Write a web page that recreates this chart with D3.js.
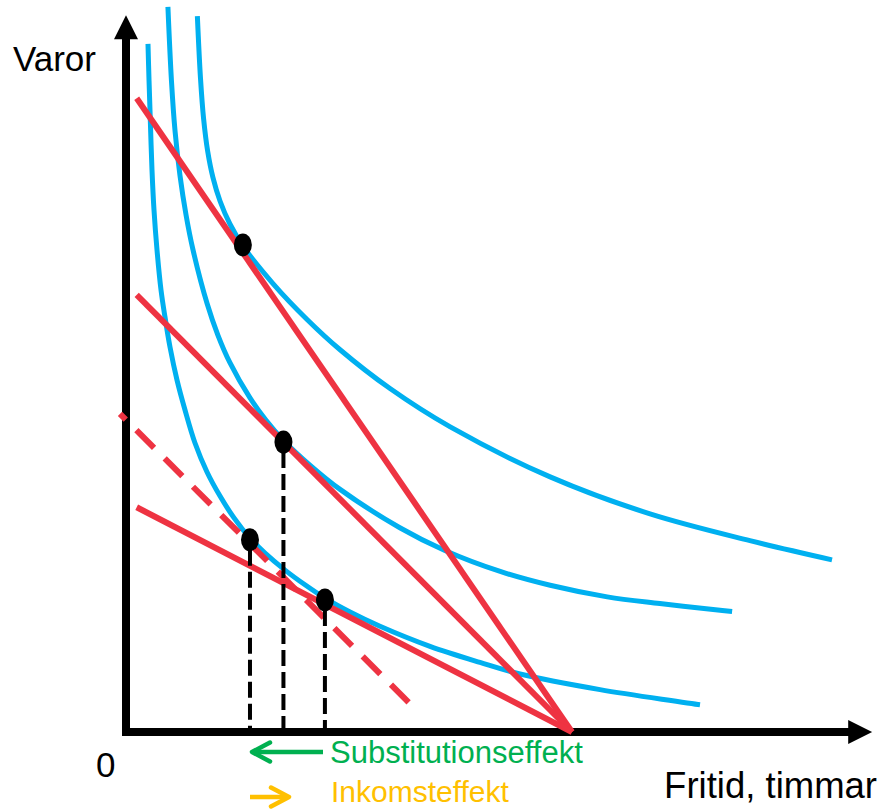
<!DOCTYPE html>
<html><head><meta charset="utf-8">
<script src="https://cdn.jsdelivr.net/npm/d3@7/dist/d3.min.js"></script>
<style>html,body{margin:0;padding:0;background:#fff;} svg{display:block;}</style>
</head><body>
<svg id="chart" width="878" height="809"></svg>
<script>
// ---- data (leisure hours on x, goods on y; total time = 100) ----
const outerCurve = [[16.0,160.5],[16.7,146.6],[17.4,137.5],[18.3,130.3],[19.5,124.3],[21.1,119.0],[23.3,113.9],[26.2,109.0],[33.0,100.5],[40.6,92.5],[48.0,85.7],[59.2,77.0],[72.7,68.4],[95.1,57.2],[117.5,48.9],[139.9,42.9],[158.3,38.6]];
const middleCurve = [[9.4,162.6],[10.2,145.9],[11.0,134.7],[12.1,124.8],[13.45,116.0],[15.0,108.2],[18.2,96.0],[20.6,89.0],[23.3,82.8],[27.8,74.9],[31.4,69.9],[35.2,65.5],[41.3,59.8],[48.0,54.4],[61.4,45.8],[71.5,40.7],[83.9,36.0],[95.1,32.9],[107.9,30.3],[119.7,28.8],[133.2,27.3],[135.9,27.0]];
const innerCurve = [[4.93,154.3],[5.16,146.2],[5.45,137.2],[5.83,126.0],[6.28,117.0],[6.95,108.1],[7.85,99.1],[8.74,93.05],[9.87,86.3],[11.44,78.9],[13.23,72.2],[15.47,64.8],[18.16,58.3],[21.08,52.9],[24.22,48.0],[27.58,43.7],[31.17,40.1],[35.65,36.3],[40.13,33.0],[44.62,30.0],[50.22,26.9],[56.95,23.7],[68.16,19.2],[79.37,15.6],[88.34,13.0],[106.28,9.5],[128.7,6.1]];
const budgetSteep = [[2.4,142.1],[100,0]];
const budgetOriginal = [[2.4,98.0],[100,0]];
const budgetFlat = [[2.4,50.4],[100,0]];
const budgetCompensated = [[-1.35,71.35],[63.7,6.3]];
const optimumPoints = [[26.2,109.2],[35.3,65.0],[27.8,43.1],[44.6,29.6]];
const dropLineIdx = [1,2,3];
const axisMax = {x:167.3, y:160.7};
const axisTitles = ["Varor","Fritid, timmar","0"];
const legendLabels = ["Substitutionseffekt","Inkomsteffekt"];

// ---- scales ----
const x = d3.scaleLinear().domain([0,100]).range([126,572]);
const y = d3.scaleLinear().domain([0,100]).range([732,286]);

const svg = d3.select("#chart");
const BLUE="#00b0f0", RED="#ee3342", GREEN="#00b050", ORANGE="#ffc000";
const font="'Liberation Sans', Arial, Helvetica, sans-serif";

// ---- axes ----
const ax = svg.append("g");
const x0=x(0), y0=y(0);
ax.append("line").attr("x1",x0).attr("y1",y0+4).attr("x2",x0).attr("y2",y(axisMax.y)+22)
  .attr("stroke","#000").attr("stroke-width",8);
ax.append("path").attr("d",`M${x0},${y(axisMax.y)} L${x0-12},${y(axisMax.y)+24} L${x0+12},${y(axisMax.y)+24} Z`).attr("fill","#000");
ax.append("line").attr("x1",x0-4).attr("y1",y0).attr("x2",x(axisMax.x)-22).attr("y2",y0)
  .attr("stroke","#000").attr("stroke-width",8);
ax.append("path").attr("d",`M${x(axisMax.x)},${y0} L${x(axisMax.x)-24},${y0-12} L${x(axisMax.x)-24},${y0+12} Z`).attr("fill","#000");

// ---- indifference curves ----
const curveGen = d3.line().x(d=>x(d[0])).y(d=>y(d[1])).curve(d3.curveCatmullRom.alpha(0.5));
[outerCurve, middleCurve, innerCurve].forEach(c=>{
  svg.append("path").attr("d",curveGen(c)).attr("fill","none")
    .attr("stroke",BLUE).attr("stroke-width",5);
});

// ---- budget lines ----
const lineGen = d3.line().x(d=>x(d[0])).y(d=>y(d[1]));
[budgetSteep, budgetOriginal, budgetFlat].forEach(b=>{
  svg.append("path").attr("d",lineGen(b)).attr("fill","none")
    .attr("stroke",RED).attr("stroke-width",6);
});
svg.append("path").attr("d",lineGen(budgetCompensated)).attr("fill","none")
  .attr("stroke",RED).attr("stroke-width",6)
  .attr("stroke-dasharray","25,15").attr("stroke-dashoffset",16.8);

// ---- drop lines ----
dropLineIdx.forEach(i=>{
  const p = optimumPoints[i];
  svg.append("line").attr("x1",x(p[0])).attr("x2",x(p[0]))
    .attr("y1",y(p[1])+10).attr("y2",y(0)-4)
    .attr("stroke","#000").attr("stroke-width",4).attr("stroke-dasharray","16,6");
});

// ---- optimum dots ----
svg.selectAll("ellipse.dot").data(optimumPoints).enter().append("ellipse")
  .attr("cx",d=>x(d[0])).attr("cy",d=>y(d[1])).attr("rx",9).attr("ry",11.5).attr("fill","#000");

// ---- texts ----
svg.append("text").attr("x",13).attr("y",71).attr("font-family",font).attr("font-size",35)
  .attr("fill","#000").text(axisTitles[0]);
svg.append("text").attr("x",877).attr("y",798).attr("text-anchor","end").attr("font-family",font).attr("font-size",36.5)
  .attr("fill","#000").text(axisTitles[1]);
svg.append("text").attr("x",96).attr("y",777).attr("font-family",font).attr("font-size",35)
  .attr("fill","#000").text(axisTitles[2]);

// ---- legend ----
const lg = svg.append("g");
lg.append("line").attr("x1",323).attr("y1",752).attr("x2",253).attr("y2",752).attr("stroke",GREEN).attr("stroke-width",4.5);
lg.append("path").attr("d","M270,742.5 L252,752 L270,761.5").attr("fill","none").attr("stroke",GREEN).attr("stroke-width",4.5).attr("stroke-linecap","round").attr("stroke-linejoin","round");
lg.append("text").attr("x",330).attr("y",763).attr("font-family",font).attr("font-size",31).attr("fill",GREEN).text(legendLabels[0]);
lg.append("line").attr("x1",250).attr("y1",797).attr("x2",287).attr("y2",797).attr("stroke",ORANGE).attr("stroke-width",4.5);
lg.append("path").attr("d","M271,787.5 L289,797 L271,806.5").attr("fill","none").attr("stroke",ORANGE).attr("stroke-width",4.5).attr("stroke-linecap","round").attr("stroke-linejoin","round");
lg.append("text").attr("x",331).attr("y",802).attr("font-family",font).attr("font-size",30).attr("fill",ORANGE).text(legendLabels[1]);
</script>
</body></html>
